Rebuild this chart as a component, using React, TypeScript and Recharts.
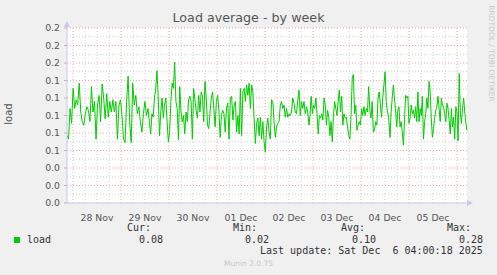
import { LineChart, Line, XAxis, YAxis, ReferenceLine, ReferenceArea, ReferenceDot } from 'recharts';

// load average in five stretches (hours since 27 Nov 21:00)
const stretchA = [0.077, 0.073, 0.108, 0.091, 0.131, 0.108, 0.118, 0.112, 0.137, 0.104, 0.093, 0.089, 0.102, 0.110, 0.106, 0.093, 0.133, 0.104, 0.116, 0.073, 0.112, 0.123, 0.093, 0.136, 0.120, 0.096, 0.125, 0.098, 0.116, 0.104, 0.118, 0.104, 0.116, 0.073, 0.112, 0.118, 0.100, 0.073, 0.069, 0.116, 0.145, 0.093, 0.069, 0.137, 0.112, 0.123, 0.102, 0.110, 0.093, 0.081, 0.102, 0.116, 0.100, 0.108];
const stretchB = [0.093, 0.079, 0.102, 0.098, 0.120, 0.131, 0.151, 0.120, 0.077, 0.104, 0.120, 0.097, 0.112, 0.120, 0.093, 0.070, 0.081, 0.116, 0.137, 0.131, 0.161, 0.116, 0.108, 0.072, 0.133, 0.104, 0.093, 0.100, 0.079, 0.104, 0.093, 0.118, 0.122, 0.116, 0.073, 0.131, 0.118, 0.106, 0.097, 0.123, 0.104, 0.127, 0.122, 0.093, 0.139, 0.120, 0.089, 0.085, 0.104, 0.120, 0.127, 0.108, 0.087, 0.116, 0.123, 0.106, 0.075, 0.100, 0.106, 0.102, 0.081, 0.108, 0.114, 0.073];
const stretchC = [0.120, 0.122, 0.095, 0.112, 0.116, 0.081, 0.100, 0.079, 0.131, 0.077, 0.127, 0.131, 0.116, 0.135, 0.123, 0.137, 0.108, 0.135, 0.127, 0.097, 0.068, 0.091, 0.097, 0.077, 0.098, 0.073, 0.093, 0.070, 0.058, 0.087, 0.097, 0.081, 0.073, 0.118, 0.116, 0.093, 0.075, 0.087, 0.091, 0.093, 0.112, 0.116, 0.108, 0.112, 0.098, 0.108, 0.098, 0.102, 0.100, 0.104, 0.120, 0.114, 0.104, 0.102, 0.118, 0.129, 0.100, 0.116, 0.108, 0.116, 0.102, 0.110, 0.104, 0.089];
const stretchD = [0.100, 0.122, 0.102, 0.112, 0.108, 0.120, 0.102, 0.079, 0.100, 0.097, 0.102, 0.095, 0.120, 0.112, 0.089, 0.106, 0.098, 0.077, 0.093, 0.070, 0.100, 0.116, 0.108, 0.100, 0.116, 0.129, 0.104, 0.122, 0.089, 0.102, 0.097, 0.098, 0.087, 0.077, 0.073, 0.100, 0.143, 0.147, 0.102, 0.112, 0.083, 0.089, 0.093, 0.089, 0.108, 0.100, 0.110, 0.100, 0.108, 0.104, 0.133, 0.106, 0.097, 0.116, 0.081, 0.083, 0.093, 0.089, 0.120, 0.127, 0.112, 0.098, 0.120, 0.135, 0.150, 0.116, 0.104, 0.098];
const stretchE = [0.075, 0.104, 0.120, 0.135, 0.120, 0.106, 0.087, 0.106, 0.110, 0.087, 0.093, 0.081, 0.066, 0.095, 0.123, 0.120, 0.122, 0.091, 0.097, 0.112, 0.102, 0.106, 0.097, 0.110, 0.093, 0.127, 0.093, 0.108, 0.100, 0.122, 0.073, 0.093, 0.102, 0.120, 0.108, 0.139, 0.127, 0.097, 0.075, 0.085, 0.097, 0.106, 0.110, 0.122, 0.108, 0.093, 0.120, 0.112, 0.110, 0.102, 0.093, 0.114, 0.108, 0.095, 0.079, 0.108, 0.087, 0.098, 0.073, 0.110, 0.104, 0.071, 0.148, 0.104, 0.091, 0.108, 0.120, 0.104, 0.091, 0.083];
const stretchStart = [0, 41.2, 81.7, 121.5, 161.5];
const stretchEnd = [40.5, 81, 121, 160.8, 200];

const dayLabels = ['28 Nov', '29 Nov', '30 Nov', '01 Dec', '02 Dec', '03 Dec', '04 Dec', '05 Dec'];
const loadTicks = [0, 0.02, 0.04, 0.06, 0.08, 0.1, 0.12, 0.14, 0.16, 0.18, 0.2];

const curLoad = '0.08';
const minLoad = '0.02';
const avgLoad = '0.10';
const maxLoad = '0.28';
const lastUpdate = 'Sat Dec  6 04:00:18 2025';

const data = [stretchA, stretchB, stretchC, stretchD, stretchE].flatMap((vals, s) =>
  vals.map((load, i) => ({
    t: stretchStart[s] + (i * (stretchEnd[s] - stretchStart[s])) / (vals.length - 1),
    load,
  }))
);

const midnights = Array.from({ length: 9 }, (_, i) => 3 + 24 * i);
const sixHours = Array.from({ length: 33 }, (_, i) => 3 + 6 * i).filter((h) => (h - 3) % 24 !== 0);
const noons = dayLabels.map((_, i) => 15 + 24 * i);
const majorLoads = loadTicks.slice(1);
const minorLoads = loadTicks.slice(1).map((v) => v - 0.01);

const AXIS = '#c8c8f0';
const MGRID = '#f0a8a8';
const GRID = '#cfcfcf';
const mono = { fontFamily: '"DejaVu Sans Mono", monospace', fontSize: 10, color: '#333', position: 'absolute' as const, whiteSpace: 'pre' as const, lineHeight: '12px' };

const UpArrow = (p: any) => (
  <path d={`M${p.cx - 3},${p.cy - 1} L${p.cx + 3},${p.cy - 1} L${p.cx},${p.cy - 7} Z`} fill={AXIS} />
);
const RightArrow = (p: any) => (
  <path d={`M${p.cx},${p.cy - 3} L${p.cx},${p.cy + 3} L${p.cx + 6},${p.cy} Z`} fill={AXIS} />
);

export default function App() {
  return (
    <div style={{ position: 'fixed', left: 0, top: 0, width: 497, height: 275, background: '#f0f0f0', fontFamily: '"DejaVu Sans", sans-serif' }}>
      <div style={{ position: 'absolute', left: 0, top: 10, width: 497, textAlign: 'center', fontSize: 12.7, color: '#555', lineHeight: '16px' }}>
        Load average - by week
      </div>
      <div style={{ position: 'absolute', left: -6, top: 108, width: 30, textAlign: 'center', fontSize: 10, color: '#555', transform: 'rotate(-90deg)', lineHeight: '12px' }}>
        load
      </div>
      <div style={{ position: 'absolute', left: 441, top: 49, width: 100, textAlign: 'center', fontSize: 7.5, color: '#c8c8c8', transform: 'rotate(90deg)', lineHeight: '9px', whiteSpace: 'nowrap' }}>
        RRDTOOL / TOBI OETIKER
      </div>
      <LineChart width={497} height={275} data={data} margin={{ top: 28, right: 30, bottom: 52, left: 7 }}>
        <XAxis
          type="number"
          dataKey="t"
          domain={[0, 200]}
          ticks={noons}
          tickFormatter={(v: number) => dayLabels[Math.round((v - 15) / 24)]}
          tickLine={false}
          tickMargin={5}
          axisLine={{ stroke: AXIS }}
          tick={{ fill: '#555', fontSize: 9.3 }}
          height={20}
        />
        <YAxis
          domain={[0, 0.2]}
          ticks={loadTicks}
          tickFormatter={(v: number) => v.toFixed(1)}
          width={60}
          tickSize={3}
          tickMargin={4}
          axisLine={{ stroke: AXIS }}
          tickLine={{ stroke: '#bbb' }}
          tick={{ fill: '#555', fontSize: 9.3 }}
        />
        <ReferenceArea x1={0} x2={200} y1={0} y2={0.2} fill="#fff" fillOpacity={1} stroke="none" />
        {sixHours.map((h) => (
          <ReferenceLine key={'v' + h} x={h} stroke={GRID} strokeDasharray="1 2" />
        ))}
        {minorLoads.map((v) => (
          <ReferenceLine key={'h' + v} y={v} stroke={GRID} strokeDasharray="1 2" />
        ))}
        {midnights.map((h) => (
          <ReferenceLine key={'V' + h} x={h} stroke={MGRID} strokeDasharray="1 2" />
        ))}
        {majorLoads.map((v) => (
          <ReferenceLine key={'H' + v} y={v} stroke={MGRID} strokeDasharray="1 2" />
        ))}
        <Line type="linear" dataKey="load" stroke="#00cc00" strokeWidth={1} dot={false} isAnimationActive={false} />
        <ReferenceDot x={0} y={0.2} r={0} shape={UpArrow} />
        <ReferenceDot x={200} y={0} r={0} shape={RightArrow} />
      </LineChart>
      <span style={{ ...mono, left: 127, top: 222 }}>Cur:</span>
      <span style={{ ...mono, left: 233, top: 222 }}>Min:</span>
      <span style={{ ...mono, left: 341, top: 222 }}>Avg:</span>
      <span style={{ ...mono, left: 447, top: 222 }}>Max:</span>
      <span style={{ position: 'absolute', left: 14, top: 237, width: 6, height: 6, background: '#00cc00' }} />
      <span style={{ ...mono, left: 27, top: 234 }}>load</span>
      <span style={{ ...mono, left: 139, top: 234 }}>{curLoad}</span>
      <span style={{ ...mono, left: 245, top: 234 }}>{minLoad}</span>
      <span style={{ ...mono, left: 352, top: 234 }}>{avgLoad}</span>
      <span style={{ ...mono, left: 459, top: 234 }}>{maxLoad}</span>
      <span style={{ ...mono, left: 260, top: 245 }}>{'Last update: ' + lastUpdate}</span>
      <div style={{ position: 'absolute', left: 0, top: 259, width: 497, textAlign: 'center', fontSize: 7.5, color: '#c8c8c8', lineHeight: '10px' }}>
        Munin 2.0.75
      </div>
    </div>
  );
}
